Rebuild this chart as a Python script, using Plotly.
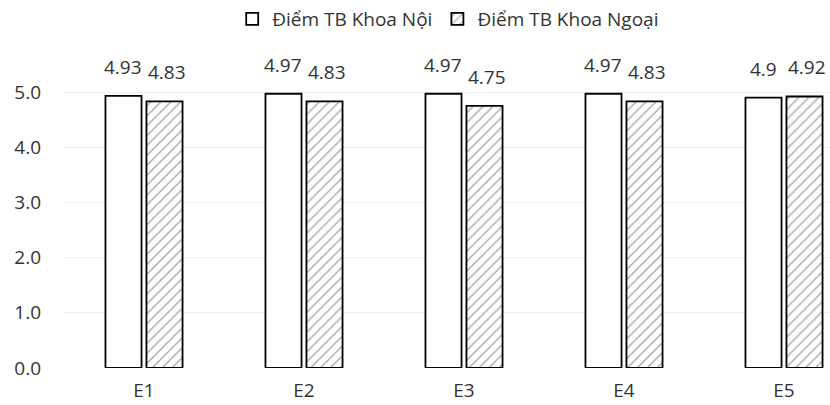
import plotly.graph_objects as go

# Criteria and mean scores per department
criteria = ["E1", "E2", "E3", "E4", "E5"]
diem_noi = [4.93, 4.97, 4.97, 4.97, 4.9]
diem_ngoai = [4.83, 4.83, 4.75, 4.83, 4.92]
label_noi = ["4.93", "4.97", "4.97", "4.97", "4.9"]
label_ngoai = ["4.83", "4.83", "4.75", "4.83", "4.92"]
y_ticks = [0, 1, 2, 3, 4, 5]
y_tick_text = ["0.0", "1.0", "2.0", "3.0", "4.0", "5.0"]

FONT = "Open Sans"
TEXT = "#333333"
SIZE = 19

fig = go.Figure()

fig.add_trace(go.Bar(
    name="Điểm TB Khoa Nội",
    x=criteria, y=diem_noi,
    marker=dict(color="white", line=dict(color="black", width=1.8)),
))
fig.add_trace(go.Bar(
    name="Điểm TB Khoa Ngoại",
    x=criteria, y=diem_ngoai,
    marker=dict(
        color="white",
        line=dict(color="black", width=1.8),
        pattern=dict(shape="/", fgcolor="#4a4a4a", bgcolor="white",
                     size=7, solidity=0.18),
    ),
))

# Value labels above each bar
annotations = []
for cat, v, t in zip(criteria, diem_noi, label_noi):
    annotations.append(dict(x=cat, y=v, text=t, showarrow=False, xshift=-21,
                            yshift=29, yanchor="middle",
                            font=dict(family=FONT, size=SIZE, color=TEXT)))
for cat, v, t in zip(criteria, diem_ngoai, label_ngoai):
    annotations.append(dict(x=cat, y=v, text=t, showarrow=False, xshift=23,
                            yshift=29, yanchor="middle",
                            font=dict(family=FONT, size=SIZE, color=TEXT)))

fig.update_layout(
    width=830, height=405,
    margin=dict(l=64, r=0, t=70, b=37),
    paper_bgcolor="white", plot_bgcolor="white",
    barmode="group", bargap=0.4875, bargroupgap=0.12,
    font=dict(family=FONT, size=SIZE, color=TEXT),
    showlegend=True,
    legend=dict(orientation="h", x=0.54, xanchor="center", xref="container",
                y=1.0, yanchor="top", yref="container",
                font=dict(family=FONT, size=SIZE, color=TEXT),
                itemwidth=30, traceorder="normal"),
    annotations=annotations,
)

fig.update_xaxes(range=[-0.5, 4.2875], showline=False, ticks="", automargin=False,
                 ticklabelstandoff=9, tickfont=dict(size=SIZE, color=TEXT))
fig.update_yaxes(range=[0, 5.4], tickvals=y_ticks, ticktext=y_tick_text,
                 showgrid=True, gridcolor="#f0f0f0", gridwidth=1, automargin=False,
                 zeroline=False, showline=False, ticks="",
                 ticklabelstandoff=22, tickfont=dict(size=SIZE, color=TEXT))

fig.write_html("out.html")
